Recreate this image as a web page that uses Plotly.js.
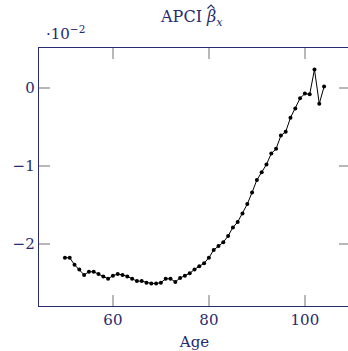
<!DOCTYPE html>
<html>
<head>
<meta charset="utf-8">
<script src="https://cdn.plot.ly/plotly-3.0.1.min.js"></script>
<style>
html,body{margin:0;padding:0;overflow:hidden;background:#fff;}
#chart{width:352px;height:351px;}
</style>
</head>
<body>
<div id="chart"></div>
<script>
// Age
const ages = [50,51,52,53,54,55,56,57,58,59,60,61,62,63,64,65,66,67,68,69,70,71,72,73,74,75,76,77,78,79,80,81,82,83,84,85,86,87,88,89,90,91,92,93,94,95,96,97,98,99,100,101,102,103,104];
// beta_x values, in units of 10^-2
const betaX = [-2.18,-2.18,-2.27,-2.33,-2.40,-2.36,-2.36,-2.39,-2.42,-2.45,-2.41,-2.39,-2.40,-2.42,-2.45,-2.48,-2.48,-2.50,-2.51,-2.51,-2.50,-2.45,-2.45,-2.49,-2.44,-2.41,-2.38,-2.33,-2.29,-2.25,-2.18,-2.08,-2.03,-1.98,-1.90,-1.79,-1.72,-1.61,-1.49,-1.34,-1.18,-1.08,-0.98,-0.84,-0.78,-0.61,-0.56,-0.38,-0.26,-0.13,-0.07,-0.08,0.24,-0.20,0.02];
const xTicks = [60,80,100];
const yTicks = [-2,-1,0];
const yTickText = ['−2','−1','0'];

const navy = '#262a6e';
const fontFam = '"DejaVu Serif", "Liberation Serif", serif';

const trace = {
  x: ages, y: betaX, type: 'scatter', mode: 'lines+markers',
  line: {color: '#000', width: 1},
  marker: {color: '#000', size: 4},
  hoverinfo: 'none'
};

// pixel helpers for paper coords (plot area: x 39..350, y 48..306)
const px = p => (p - 39) / 311;
const py = p => 1 + (48 - p) / 258;

const hatPath = 'M ' + px(207.5) + ' ' + py(8.5) + ' L ' + px(211) + ' ' + py(5) + ' L ' + px(214.5) + ' ' + py(8.5);

const layout = {
  width: 352, height: 351,
  margin: {l: 39, r: 2, t: 48, b: 45},
  paper_bgcolor: '#fff', plot_bgcolor: '#fff',
  showlegend: false,
  font: {family: fontFam, color: navy, size: 15},
  title: {text: 'APCI <i>β</i><sub><i>x</i></sub>', x: 0.545, xanchor: 'center', y: 0.952, yanchor: 'middle', font: {family: fontFam, size: 16, color: navy}},
  xaxis: {
    range: [44.6, 109.4], tickvals: xTicks, ticktext: xTicks.map(String),
    ticks: 'inside', ticklen: 11, tickcolor: '#b8b8b8', tickwidth: 1.5,
    showline: true, linecolor: navy, linewidth: 1.3, mirror: 'ticks',
    showgrid: false, zeroline: false,
    tickfont: {family: fontFam, size: 15, color: navy},
    title: {text: 'Age', font: {family: fontFam, size: 15, color: navy}, standoff: 8}
  },
  yaxis: {
    range: [-2.80, 0.516], tickvals: yTicks, ticktext: yTickText,
    ticks: 'inside', ticklen: 11, tickcolor: '#b8b8b8', tickwidth: 1.5,
    showline: true, linecolor: navy, linewidth: 1.3, mirror: 'ticks',
    showgrid: false, zeroline: false,
    tickfont: {family: fontFam, size: 15, color: navy}
  },
  shapes: [{
    type: 'path', xref: 'paper', yref: 'paper', path: hatPath,
    line: {color: navy, width: 1.1}
  }],
  annotations: [{
    text: '·10<sup>−2</sup>', xref: 'paper', yref: 'paper', x: 0.015, y: 1.0, xanchor: 'left', yanchor: 'bottom',
    yshift: 3, showarrow: false, font: {family: fontFam, size: 15, color: navy}
  }]
};

Plotly.newPlot('chart', [trace], layout, {staticPlot: true, displayModeBar: false});
</script>
</body>
</html>
